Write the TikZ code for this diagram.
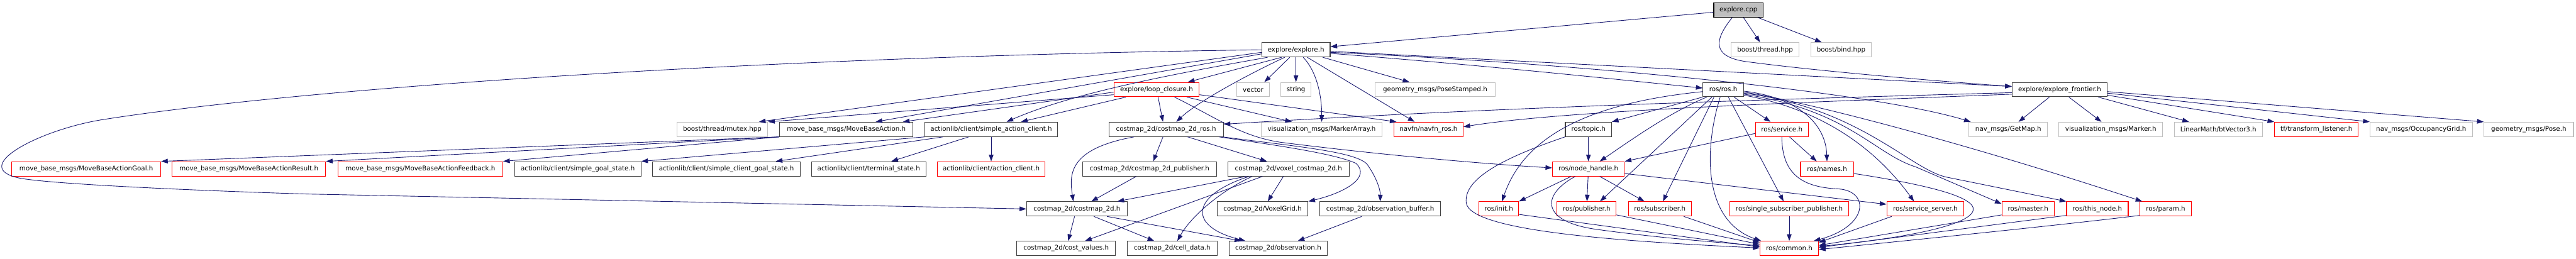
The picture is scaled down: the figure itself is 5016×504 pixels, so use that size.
\documentclass[tikz,border=0pt]{standalone}
\usepackage{fontspec}
\setmainfont{DejaVu Sans}
\usetikzlibrary{
  arrows.meta,
  calc
}
\definecolor{edgeblue}{HTML}{191970}
\definecolor{extgrey}{HTML}{BFBFBF}

\begin{document}
\begin{tikzpicture}[
    x=1pt, y=-1pt,
    >={Triangle[length=13pt,width=9pt]},
    every node/.style={font=\fontsize{12.6}{15}\selectfont, inner sep=0pt, minimum height=28pt},
    hdr/.style={draw=black!75, line width=1.3pt, fill=white},
    hdrred/.style={draw=red, line width=1.3pt, fill=white},
    hdrext/.style={draw=extgrey, line width=1.3pt, fill=white},
    hdrroot/.style={draw=black, line width=1.3pt, fill=extgrey},
    incl/.style={->, draw=edgeblue, line width=1.1pt}
    ]

    \useasboundingbox (0,0) rectangle (5016,504);

    % nível 0 e 1
    \node[hdrroot, minimum width=96pt] (cpp) at (3385,19.5) {explore.cpp};
    \node[hdr, minimum width=133pt] (exh) at (2523.5,97) {explore/explore.h};
    \node[hdrext, minimum width=132pt] (bthr) at (3437,97) {boost/thread.hpp};
    \node[hdrext, minimum width=118pt] (bbind) at (3585,97) {boost/bind.hpp};

    % nível 2
    \node[hdrred, minimum width=166pt] (loopc) at (2252,174.5) {explore/loop\_closure.h};
    \node[hdrext, minimum width=64pt] (vec) at (2440,174.5) {vector};
    \node[hdrext, minimum width=59pt] (str) at (2523.5,174.5) {string};
    \node[hdrext, minimum width=233pt] (pstamp) at (2794.5,174.5) {geometry\_msgs/PoseStamped.h};
    \node[hdr, minimum width=79pt] (rosh) at (3355.5,174.5) {ros/ros.h};
    \node[hdr, minimum width=185pt] (front) at (4010.5,174.5) {explore/explore\_frontier.h};

    % nível 3
    \node[hdrext, minimum width=177pt] (mutex) at (1406.5,252) {boost/thread/mutex.hpp};
    \node[hdr, minimum width=260pt] (mbact) at (1648,252) {move\_base\_msgs/MoveBaseAction.h};
    \node[hdr, minimum width=258pt] (sac) at (1930,252) {actionlib/client/simple\_action\_client.h};
    \node[hdr, minimum width=223pt] (cmros) at (2270.5,252) {costmap\_2d/costmap\_2d\_ros.h};
    \node[hdrext, minimum width=235pt] (markarr) at (2573.5,252) {visualization\_msgs/MarkerArray.h};
    \node[hdrred, minimum width=135pt] (navfn) at (2781.5,252) {navfn/navfn\_ros.h};
    \node[hdr, minimum width=90pt] (topic) at (3093,252) {ros/topic.h};
    \node[hdrred, minimum width=103pt] (service) at (3469.5,252) {ros/service.h};
    \node[hdrext, minimum width=153pt] (getmap) at (3910.5,252) {nav\_msgs/GetMap.h};
    \node[hdrext, minimum width=202pt] (marker) at (4110,252) {visualization\_msgs/Marker.h};
    \node[hdrext, minimum width=171pt] (btvec) at (4319.5,252) {LinearMath/btVector3.h};
    \node[hdrred, minimum width=163pt] (tfl) at (4510.5,252) {tf/transform\_listener.h};
    \node[hdrext, minimum width=199pt] (occgrid) at (4714.5,252) {nav\_msgs/OccupancyGrid.h};
    \node[hdrext, minimum width=174pt] (pose) at (4924,252) {geometry\_msgs/Pose.h};

    % nível 4
    \node[hdrred, minimum width=290pt] (agoal) at (168,329) {move\_base\_msgs/MoveBaseActionGoal.h};
    \node[hdrred, minimum width=299pt] (aresult) at (484.5,329) {move\_base\_msgs/MoveBaseActionResult.h};
    \node[hdrred, minimum width=321pt] (afeed) at (818.5,329) {move\_base\_msgs/MoveBaseActionFeedback.h};
    \node[hdr, minimum width=246pt] (sgs) at (1125,329) {actionlib/client/simple\_goal\_state.h};
    \node[hdr, minimum width=287pt] (scgs) at (1414.5,329) {actionlib/client/simple\_client\_goal\_state.h};
    \node[hdr, minimum width=223pt] (term) at (1691.5,329) {actionlib/client/terminal\_state.h};
    \node[hdrred, minimum width=210pt] (aclient) at (1930,329) {actionlib/client/action\_client.h};
    \node[hdr, minimum width=261pt] (cmpub) at (2238.5,329) {costmap\_2d/costmap\_2d\_publisher.h};
    \node[hdr, minimum width=236pt] (voxcm) at (2509,329) {costmap\_2d/voxel\_costmap\_2d.h};
    \node[hdrred, minimum width=140pt] (nh) at (3093,329) {ros/node\_handle.h};
    \node[hdrred, minimum width=103pt] (names) at (3557.5,329) {ros/names.h};

    % nível 5
    \node[hdr, minimum width=196pt] (cm) at (2097,407) {costmap\_2d/costmap\_2d.h};
    \node[hdr, minimum width=177pt] (vgrid) at (2458.5,407) {costmap\_2d/VoxelGrid.h};
    \node[hdr, minimum width=235pt] (obsbuf) at (2687.5,407) {costmap\_2d/observation\_buffer.h};
    \node[hdrred, minimum width=77pt] (init) at (2918.5,407) {ros/init.h};
    \node[hdrred, minimum width=115pt] (pub) at (3089.5,407) {ros/publisher.h};
    \node[hdrred, minimum width=122pt] (sub) at (3232,407) {ros/subscriber.h};
    \node[hdrred, minimum width=232pt] (ssp) at (3484,407) {ros/single\_subscriber\_publisher.h};
    \node[hdrred, minimum width=150pt] (ssrv) at (3749,407) {ros/service\_server.h};
    \node[hdrred, minimum width=102pt] (master) at (3949,407) {ros/master.h};
    \node[hdrred, minimum width=120pt] (thisn) at (4084,407) {ros/this\_node.h};
    \node[hdrred, minimum width=100pt] (param) at (4217,407) {ros/param.h};

    % nível 6
    \node[hdr, minimum width=192pt] (costv) at (2076,484) {costmap\_2d/cost\_values.h};
    \node[hdr, minimum width=175pt] (celld) at (2282.5,484) {costmap\_2d/cell\_data.h};
    \node[hdr, minimum width=192pt] (obs) at (2489,484) {costmap\_2d/observation.h};
    \node[hdrred, minimum width=114pt] (common) at (3484,484) {ros/common.h};

    % explore.cpp
    \draw[incl] (cpp) -- (exh);
    \draw[incl] (cpp) -- (bthr);
    \draw[incl] (cpp) -- (bbind);
    \draw[incl] ($(cpp.south)+(-12,0)$) .. controls (3340,75) and (3330,110) .. (3400,120)
      .. controls (3550,140) and (3800,160) .. ($(front.west)+(0,-6)$);

    % explore.h
    \draw[incl] (exh.west) .. controls (1500,110) and (600,170) .. (200,233)
      .. controls (80,252) and (-55,322) .. (30,345)
      .. controls (70,358) and (400,372) .. (600,378) -- (cm.west);
    \draw[incl] ($(exh.west)+(0,5)$) -- ($(mutex.north east)+(-18,0)$);
    \draw[incl] ($(exh.west)+(0,8)$) -- ($(mbact.north)+(57,0)$);
    \draw[incl] ($(exh.south west)+(12,0)$) .. controls (2250,150) and (2080,185) .. ($(sac.north)+(30,0)$);
    \draw[incl] ($(exh.south)+(-28,0)$) -- ($(loopc.north)+(61,0)$);
    \draw[incl] ($(exh.south)+(-22,0)$) .. controls (2420,150) and (2330,200) .. ($(cmros.north)+(20,0)$);
    \draw[incl] ($(exh.south)+(-12,0)$) -- ($(vec.north)+(22,0)$);
    \draw[incl] (exh) -- (str);
    \draw[incl] ($(exh.south)+(14,0)$) .. controls (2565,140) and (2574,190) .. (markarr.north);
    \draw[incl] ($(exh.south)+(22,0)$) -- ($(navfn.north)+(-27,0)$);
    \draw[incl] ($(exh.south east)+(-15,0)$) -- ($(pstamp.north)+(-50,0)$);
    \draw[incl] ($(exh.east)+(0,7)$) .. controls (2900,128) and (3150,155) .. ($(rosh.west)+(0,-3)$);
    \draw[incl] ($(exh.east)+(0,3)$) -- ($(front.west)+(0,-6)$);
    \draw[incl] ($(exh.east)+(0,5)$) .. controls (3100,125) and (3650,180) .. ($(getmap.north west)+(4,0)$);

    % loop_closure.h
    \draw[incl] ($(loopc.west)+(0,10)$) -- (mutex.north east);
    \draw[incl] ($(loopc.west)+(0,5)$) -- ($(mbact.north)+(110,0)$);
    \draw[incl] ($(loopc.south west)+(24,0)$) -- ($(sac.north)+(58,0)$);
    \draw[incl] ($(loopc.south)+(3,0)$) -- ($(cmros.north)+(-6,0)$);
    \draw[incl] ($(loopc.south east)+(-25,0)$) -- ($(markarr.north)+(-58,0)$);
    \draw[incl] ($(loopc.east)+(0,10)$) -- ($(navfn.north west)+(6,0)$);
    \draw[incl] ($(loopc.south)+(35,0)$) .. controls (2370,230) and (2420,268) .. (2500,278)
      .. controls (2700,303) and (2900,320) .. ($(nh.west)+(0,-2)$);

    % costmap_2d_ros.h
    \draw[incl] ($(cmros.south)+(-6,0)$) -- ($(cmpub.north)+(7,0)$);
    \draw[incl] ($(cmros.south)+(42,0)$) -- ($(voxcm.north)+(-42,0)$);
    \draw[incl] ($(cmros.south west)+(50,0)$) .. controls (2080,290) and (2082,340) .. ($(cm.north)+(-7,0)$);
    \draw[incl] ($(cmros.south east)+(-9,0)$) .. controls (2500,285) and (2600,300) .. (2640,318)
      .. controls (2670,345) and (2620,375) .. (vgrid.north east);
    \draw[incl] ($(cmros.south east)+(-2,0)$) .. controls (2520,285) and (2640,295) .. (2662,320)
      .. controls (2680,345) and (2688,370) .. (obsbuf.north);

    % costmap_2d
    \draw[incl] ($(cmpub.south)+(-26,0)$) -- ($(cm.north)+(28,0)$);
    \draw[incl] ($(voxcm.south west)+(36,0)$) -- ($(cm.north east)+(-20,0)$);
    \draw[incl] ($(voxcm.south)+(-10,0)$) -- ($(vgrid.north)+(10,0)$);
    \draw[incl] ($(voxcm.south west)+(68,0)$) -- ($(costv.north east)+(-60,0)$);
    \draw[incl] ($(voxcm.south west)+(48,0)$) .. controls (2380,370) and (2320,420) .. ($(celld.north)+(10,0)$);
    \draw[incl] ($(voxcm.south west)+(42,0)$) .. controls (2320,380) and (2310,440) .. ($(obs.north)+(-64,0)$);
    \draw[incl] ($(cm.south west)+(94,0)$) -- ($(costv.north)+(4,0)$);
    \draw[incl] ($(cm.south)+(33,0)$) -- ($(celld.north)+(-35,0)$);
    \draw[incl] ($(cm.south east)+(-40,0)$) -- ($(obs.north)+(-72,0)$);
    \draw[incl] ($(obsbuf.south)+(-36,0)$) -- ($(obs.north)+(38,0)$);

    % move_base e actionlib
    \draw[incl] (mbact.south west) -- (agoal.north east);
    \draw[incl] (mbact.south west) -- (aresult.north east);
    \draw[incl] (mbact.south west) -- (afeed.north east);
    \draw[incl] (sac.south west) -- (sgs.north east);
    \draw[incl] ($(sac.south west)+(36,0)$) -- ($(scgs.north)+(96,0)$);
    \draw[incl] ($(sac.south west)+(86,0)$) -- ($(term.north)+(44,0)$);
    \draw[incl] (sac) -- (aclient);

    % ros/ros.h
    \draw[incl] (rosh.south west) -- (topic.north east);
    \draw[incl] ($(rosh.south west)+(8,0)$) .. controls (3250,220) and (3180,270) .. ($(nh.north)+(22,0)$);
    \draw[incl] ($(rosh.west)+(0,4)$) .. controls (3050,205) and (2960,290) .. ($(init.north)+(6,0)$);
    \draw[incl] ($(rosh.south west)+(18,0)$) -- ($(pub.north)+(26,0)$);
    \draw[incl] ($(rosh.south west)+(22,0)$) -- ($(sub.north)+(6,0)$);
    \draw[incl] ($(rosh.south)+(-6,0)$) .. controls (3318,290) and (3315,430) .. ($(common.north west)+(3,0)$);
    \draw[incl] ($(rosh.south)+(10,0)$) -- ($(ssp.north)+(-11,0)$);
    \draw[incl] ($(rosh.south)+(21,0)$) -- ($(service.north)+(-22,0)$);
    \draw[incl] ($(rosh.east)+(0,3)$) .. controls (3500,190) and (3555,240) .. (names.north);
    \draw[incl] ($(rosh.east)+(0,5)$) .. controls (3500,195) and (3800,270) .. ($(param.north west)+(5,0)$);
    \draw[incl] ($(rosh.east)+(0,7)$) .. controls (3620,210) and (3720,330) .. (3790,345) -- (thisn.north west);
    \draw[incl] ($(rosh.east)+(0,9)$) .. controls (3600,215) and (3650,300) .. (3730,325) -- ($(master.west)+(0,-10)$);
    \draw[incl] ($(rosh.east)+(0,11)$) .. controls (3560,215) and (3660,300) .. ($(ssrv.north)+(-22,0)$);

    % service.h e topic.h
    \draw[incl] ($(service.west)+(0,8)$) -- (nh.north east);
    \draw[incl] ($(service.south)+(15,0)$) -- ($(names.north)+(-20,0)$);
    \draw[incl] (service.south) .. controls (3470,340) and (3510,365) .. (3580,368)
      .. controls (3640,372) and (3640,440) .. ($(common.north east)+(-10,0)$);
    \draw[incl] (topic) -- (nh);
    \draw[incl] (topic.south west) .. controls (2920,310) and (2850,350) .. (2855,395)
      .. controls (2862,450) and (3150,470) .. ($(common.west)+(0,-1)$);

    % node_handle.h
    \draw[incl] ($(nh.south west)+(37,0)$) -- (init.north east);
    \draw[incl] (nh) -- (pub);
    \draw[incl] ($(nh.south)+(22,0)$) -- ($(sub.north)+(-30,0)$);
    \draw[incl] ($(nh.south west)+(45,0)$) .. controls (3000,380) and (3000,432) .. (3110,447)
      .. controls (3250,466) and (3350,472) .. ($(common.west)+(0,-5)$);
    \draw[incl] ($(nh.east)+(0,9)$) -- ($(ssrv.west)+(0,-9)$);

    % para common.h
    \draw[incl] ($(init.south east)+(0,-4)$) -- ($(common.west)+(0,-3)$);
    \draw[incl] ($(pub.south east)+(0,-3)$) -- ($(common.west)+(0,-8)$);
    \draw[incl] ($(sub.south east)+(-15,0)$) -- ($(common.north west)+(0,3)$);
    \draw[incl] (ssp) -- (common);
    \draw[incl] ($(ssrv.south west)+(10,0)$) -- ($(common.north east)+(0,3)$);
    \draw[incl] ($(master.south west)+(0,-3)$) -- ($(common.east)+(0,-6)$);
    \draw[incl] ($(thisn.south west)+(0,-2)$) -- ($(common.east)+(0,-2)$);
    \draw[incl] ($(param.south west)+(0,-2)$) .. controls (4000,440) and (3700,470) .. ($(common.east)+(0,2)$);
    \draw[incl] ($(names.east)+(0,9)$) .. controls (3720,355) and (3850,380) .. (3842,410)
      .. controls (3835,440) and (3700,465) .. ($(common.east)+(0,-4)$);

    % explore_frontier.h
    \draw[incl] ($(front.west)+(0,6)$) .. controls (3400,195) and (2900,210) .. ($(cmros.east)+(0,-10)$);
    \draw[incl] ($(front.west)+(0,9)$) .. controls (3500,200) and (3050,215) .. ($(navfn.east)+(0,-5)$);
    \draw[incl] ($(front.south)+(-20,0)$) -- ($(getmap.north)+(20,0)$);
    \draw[incl] ($(front.south)+(18,0)$) -- ($(marker.north)+(-18,0)$);
    \draw[incl] ($(front.south east)+(-18,0)$) -- ($(btvec.north)+(-57,0)$);
    \draw[incl] ($(front.east)+(0,11)$) -- (tfl.north west);
    \draw[incl] ($(front.east)+(0,7)$) -- (occgrid.north west);
    \draw[incl] ($(front.east)+(0,4)$) -- (pose.north west);

\end{tikzpicture}
\end{document}
